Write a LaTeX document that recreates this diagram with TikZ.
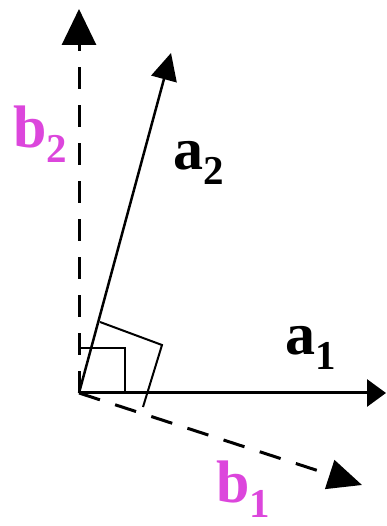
\documentclass[tikz,border=0pt]{standalone}
\usepackage{fontspec}
\setmainfont{Liberation Serif}
\usetikzlibrary{arrows.meta}
\definecolor{dualpink}{RGB}{220,70,220}
\newcommand{\vecname}[2]{\textbf{#1}\raisebox{-0.24em}{\fontsize{41}{41}\selectfont\textbf{#2}}}

\begin{document}
\begin{tikzpicture}[x=1pt,y=1pt,
  basis/.style={black, line width=3pt},
  dual/.style={black, line width=3pt, dash pattern=on 22pt off 16pt},
  rightmark/.style={black, line width=2pt, line join=miter},
  vlabel/.style={anchor=base west, inner sep=0pt, font=\fontsize{60}{60}\selectfont}]
\useasboundingbox (0,0) rectangle (386,526);
% origin and vector tips
\coordinate (O) at (79,133);
\coordinate (a1) at (386,133);
\coordinate (a2) at (171,473);
\coordinate (b1) at (362,41);
\coordinate (b2) at (79,517);
% vectors
\draw[basis, -{Triangle[length=19pt,width=27pt]}] (O) -- (a1);
\draw[basis, line width=2.5pt, -{Triangle[length=27pt,width=26pt]}] (O) -- (a2);
\draw[dual, -{Triangle[length=34pt,width=30pt]}] (O) -- (b1);
\draw[dual, -{Triangle[length=36pt,width=34pt]}] (O) -- (b2);
% right angle marks
\draw[rightmark] (79,178) -- (125,178) -- (125,133);
\coordinate (sqA) at (100,204);
\coordinate (sqC) at (162,181);
\coordinate (sqB) at (143,119);
\draw[rightmark] (sqA) -- (sqC) -- (sqB);
% labels
\node[vlabel] (a1lab) at (285,171) {\vecname{a}{1}};
\node[vlabel] (a2lab) at (173,356) {\vecname{a}{2}};
\node[vlabel, dualpink] (b1lab) at (216,23) {\vecname{b}{1}};
\node[vlabel, dualpink] (b2lab) at (13,378) {\vecname{b}{2}};
\end{tikzpicture}
\end{document}
